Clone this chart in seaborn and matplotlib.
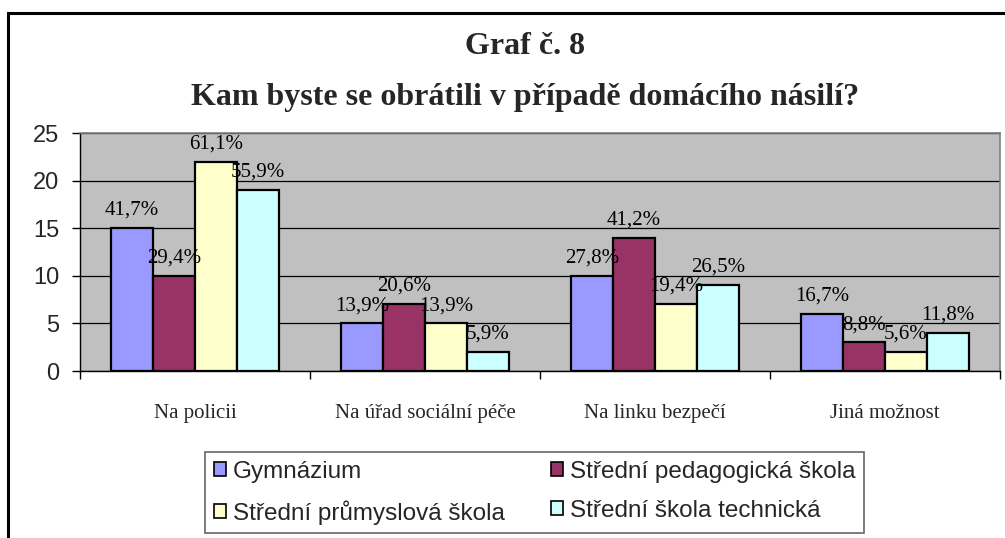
import matplotlib
matplotlib.use("Agg")
import matplotlib.pyplot as plt
from matplotlib.patches import Rectangle, Patch
import seaborn as sns
import pandas as pd

# data (counts, percent labels)
mista = ['Na policii', 'Na úřad sociální péče', 'Na linku bezpečí', 'Jiná možnost']
skoly = ['Gymnázium', 'Střední pedagogická škola',
         'Střední průmyslová škola', 'Střední škola technická']
gymnazium = [15, 5, 10, 6]
pedagogicka = [10, 7, 14, 3]
prumyslova = [22, 5, 7, 2]
technicka = [19, 2, 9, 4]
proc_gymnazium = ['41,7%', '13,9%', '27,8%', '16,7%']
proc_pedagogicka = ['29,4%', '20,6%', '41,2%', '8,8%']
proc_prumyslova = ['61,1%', '13,9%', '19,4%', '5,6%']
proc_technicka = ['55,9%', '5,9%', '26,5%', '11,8%']
barvy = ['#9999FF', '#993366', '#FFFFCC', '#CCFFFF']

rows = []
for skola, hodnoty in zip(skoly, [gymnazium, pedagogicka, prumyslova, technicka]):
    for misto, h in zip(mista, hodnoty):
        rows.append({'misto': misto, 'skola': skola, 'pocet': h})
df = pd.DataFrame(rows)

sns.set_theme(style='white')
serif = ['Liberation Serif', 'DejaVu Serif']
sans = ['Liberation Sans', 'DejaVu Sans']

fig = plt.figure(figsize=(10.05, 5.38), dpi=100)
ax = fig.add_axes([80 / 1005, 1 - 371 / 538, 920 / 1005, 238 / 538])
ax.set_facecolor('#C0C0C0')

sns.barplot(data=df, x='misto', y='pocet', hue='skola', order=mista,
            hue_order=skoly, palette=barvy, edgecolor='black', linewidth=1.6,
            width=0.73, saturation=1, legend=False, ax=ax)

for cont, popisky in zip(ax.containers, [proc_gymnazium, proc_pedagogicka,
                                         proc_prumyslova, proc_technicka]):
    ax.bar_label(cont, labels=popisky, padding=6, fontsize=15,
                 fontfamily=serif, color='black')

ax.set_xlim(-0.5, 3.5)
ax.set_ylim(0, 25)
ax.set_yticks([0, 5, 10, 15, 20, 25])
ax.yaxis.grid(True, color='black', linewidth=0.9)
ax.set_axisbelow(True)
ax.set_xlabel('')
ax.set_ylabel('')

# category ticks between groups
ax.set_xticks([-0.5, 0.5, 1.5, 2.5, 3.5], minor=True)
ax.tick_params(axis='x', which='minor', length=6, width=1, color='black',
               direction='out', bottom=True)
ax.tick_params(axis='x', which='major', length=0, pad=24)
for lbl in ax.get_xticklabels():
    lbl.set_fontfamily(serif)
    lbl.set_fontsize(15)
ax.tick_params(axis='y', length=6, width=1, color='black', direction='out',
               left=True, pad=9, labelsize=17)
for lbl in ax.get_yticklabels():
    lbl.set_fontfamily(sans)

for side in ['top', 'right']:
    ax.spines[side].set_color('#808080')
    ax.spines[side].set_linewidth(1.2)
for side in ['left', 'bottom']:
    ax.spines[side].set_color('black')
    ax.spines[side].set_linewidth(1.0)

fig.text(0.522, 1 - 47 / 538, 'Graf č. 8', ha='center', va='center',
         fontsize=23, fontweight='bold', fontfamily=serif)
fig.text(0.522, 1 - 97 / 538, 'Kam byste se obrátili v případě domácího násilí?',
         ha='center', va='center', fontsize=23, fontweight='bold',
         fontfamily=serif)

# legend filled row by row as in the original
poradi = [0, 2, 1, 3]
handles = [Patch(facecolor=barvy[i], edgecolor='black', linewidth=1.2) for i in poradi]
leg = fig.legend(handles, [skoly[i] for i in poradi], loc='upper left', ncol=2,
                 bbox_to_anchor=(205 / 1005, 1 - 452 / 538),
                 prop={'family': sans, 'size': 17.5}, frameon=True,
                 fancybox=False, handlelength=0.5, handleheight=0.5,
                 handletextpad=0.3, labelspacing=0.72, columnspacing=1.9,
                 borderpad=0.35, borderaxespad=0)
leg.get_frame().set_edgecolor('#404040')
leg.get_frame().set_linewidth(1.2)

# outer chart frame
fig.add_artist(Rectangle((8 / 1005, -0.1), 1.2, 0.1 + 1 - 13 / 538,
                         transform=fig.transFigure, fill=False,
                         edgecolor='black', linewidth=2.2))

fig.savefig('out.png', dpi=100)
